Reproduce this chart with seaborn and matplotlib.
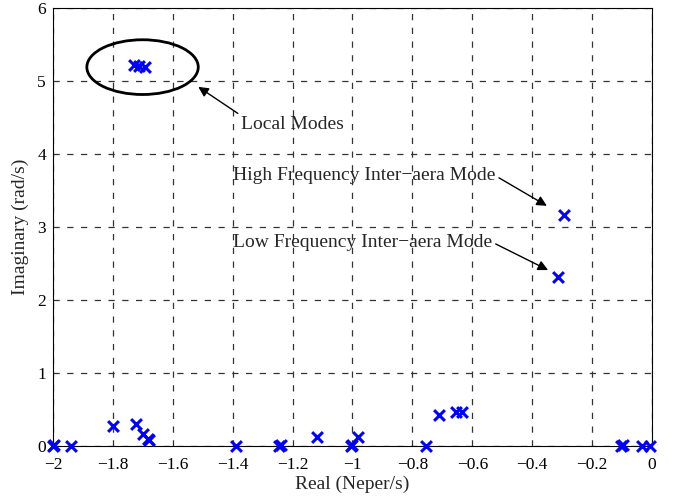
import matplotlib
matplotlib.use("Agg")
import matplotlib.pyplot as plt
import seaborn as sns
import pandas as pd
from matplotlib.patches import Ellipse

real_part = [-2.0, -1.997, -1.939, -1.798, -1.723, -1.701, -1.684, -1.680,
             -1.390, -1.245, -1.240, -1.118, -1.004, -1.000, -0.982,
             -0.753, -0.711, -0.655, -0.635,
             -0.102, -0.098, -0.034, -0.006,
             -0.295, -0.314,
             -1.728, -1.712, -1.692]
imag_part = [0.0, 0.01, 0.0, 0.27, 0.30, 0.17, 0.10, 0.08,
             0.0, 0.0, 0.02, 0.13, 0.0, 0.02, 0.12,
             0.0, 0.42, 0.46, 0.47,
             0.0, 0.01, 0.0, 0.0,
             3.16, 2.31,
             5.22, 5.21, 5.19]

xticks = [-2, -1.8, -1.6, -1.4, -1.2, -1, -0.8, -0.6, -0.4, -0.2, 0]
xticklabels = ["\u22122", "\u22121.8", "\u22121.6", "\u22121.4", "\u22121.2", "\u22121",
               "\u22120.8", "\u22120.6", "\u22120.4", "\u22120.2", "0"]
yticks = [0, 1, 2, 3, 4, 5, 6]

df = pd.DataFrame({"Real": real_part, "Imag": imag_part})

sns.set_style("white")
plt.rcParams["font.family"] = ["Liberation Serif", "DejaVu Serif"]

fig = plt.figure(figsize=(6.73, 4.97), dpi=100)
ax = fig.add_axes([53/673, 51/497, 599/673, 438/497])

sns.scatterplot(data=df, x="Real", y="Imag", marker="x", color="blue",
                s=60, linewidth=2.2, ax=ax, zorder=3, legend=False, clip_on=False)

ax.set_xlim(-2, 0)
ax.set_ylim(0, 6)
ax.set_xticks(xticks)
ax.set_xticklabels(xticklabels)
ax.set_yticks(yticks)
ax.grid(True, color="#333333", linestyle=(0, (5, 6)), linewidth=0.9)
for s in ax.spines.values():
    s.set_visible(True)
    s.set_color("black")
    s.set_linewidth(0.8)
ax.tick_params(direction="in", length=4, labelsize=12.5, colors="black")
ax.tick_params(axis="x", pad=8)
ax.tick_params(axis="y", pad=5)
ax.set_xlabel("Real (Neper/s)", fontsize=14, labelpad=2)
ax.set_ylabel("Imaginary (rad/s)", fontsize=14, labelpad=6)

ell = Ellipse((-1.701, 5.19), 0.372, 0.75, fill=False, edgecolor="black",
              linewidth=2, zorder=4)
ax.add_patch(ell)

ax.annotate("Local Modes", xy=(-1.515, 4.92), xytext=(-1.372, 4.41),
            fontsize=14, va="center", ha="left",
            arrowprops=dict(arrowstyle="-|>", color="black", lw=1, mutation_scale=15,
                            shrinkA=0, shrinkB=0, relpos=(0.0, 1.0)))
ax.annotate("High Frequency Inter\u2212aera Mode", xy=(-0.351, 3.29), xytext=(-1.398, 3.70),
            fontsize=14, va="center", ha="left",
            arrowprops=dict(arrowstyle="-|>", color="black", lw=1, mutation_scale=15,
                            shrinkA=0, shrinkB=0, relpos=(1.0, 0.5)))
ax.annotate("Low Frequency Inter\u2212aera Mode", xy=(-0.347, 2.41), xytext=(-1.398, 2.79),
            fontsize=14, va="center", ha="left",
            arrowprops=dict(arrowstyle="-|>", color="black", lw=1, mutation_scale=15,
                            shrinkA=0, shrinkB=0, relpos=(1.0, 0.5)))

fig.savefig("out.png", dpi=100)
